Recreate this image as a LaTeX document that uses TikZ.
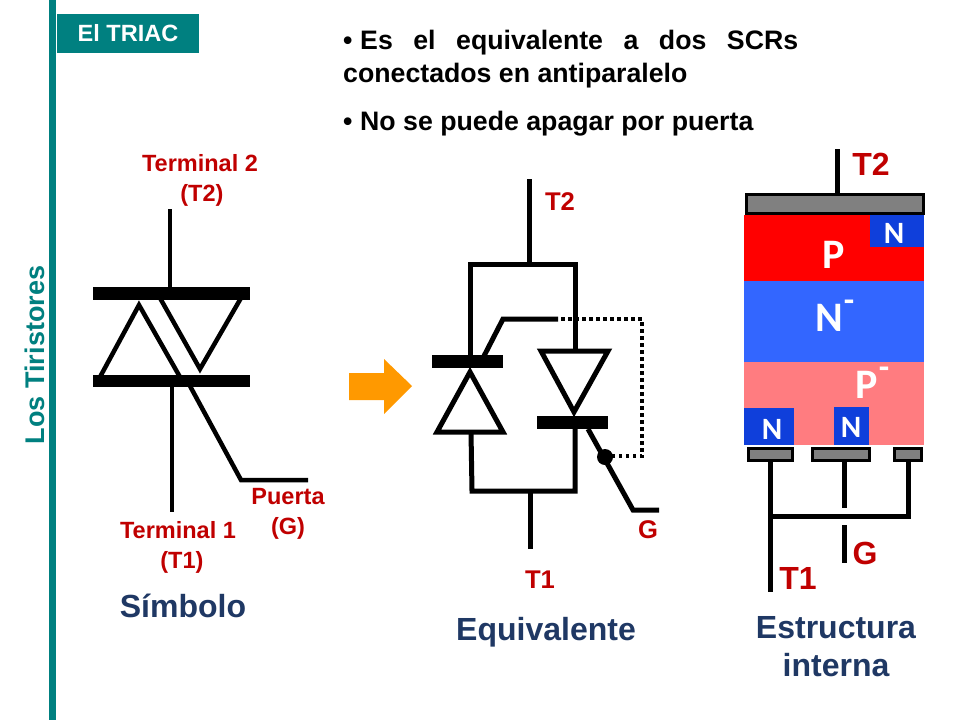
\documentclass[tikz,border=0pt]{standalone}
\usepackage{fontspec}
\setmainfont{Liberation Sans}
\newfontfamily\calfam{Carlito}
\definecolor{teal1}{HTML}{008080}
\definecolor{lab}{HTML}{C00000}
\definecolor{navy}{HTML}{1F3864}
\definecolor{nplus}{HTML}{0F3FDB}
\definecolor{nminus}{HTML}{3366FF}
\definecolor{pminus}{HTML}{FF7C80}
\definecolor{metal}{HTML}{808080}
\definecolor{arrowor}{HTML}{FF9900}
\tikzset{
  x=1pt,y=-1pt,
  wire/.style={draw=black,line width=4.5pt,line join=miter},
  wireb/.style={draw=black,line width=5pt,line join=miter},
  metalbox/.style={fill=metal,draw=black,line width=3pt},
  lbl/.style={text=lab,font=\bfseries\fontsize{23.5}{30}\selectfont,align=center,inner sep=0pt},
  lblm/.style={text=lab,font=\bfseries\fontsize{25.6}{30}\selectfont,inner sep=0pt},
  lblb/.style={text=lab,font=\bfseries\fontsize{32}{36}\selectfont,inner sep=0pt},
  cap1/.style={text=navy,font=\bfseries\fontsize{32}{36}\selectfont,align=center,inner sep=0pt},
  semi/.style={text=white,font=\calfam\bfseries\fontsize{42}{46}\selectfont,inner sep=0pt},
  semim/.style={text=white,font=\calfam\bfseries\fontsize{34}{36}\selectfont,inner sep=0pt},
  semis/.style={text=white,font=\calfam\bfseries\fontsize{31}{34}\selectfont,inner sep=0pt},
  body/.style={font=\bfseries\fontsize{26.7}{30}\selectfont,inner sep=0pt,anchor=base west},
}
\begin{document}
\begin{tikzpicture}
\useasboundingbox (0,0) rectangle (960,720);
\fill[white] (0,0) rectangle (960,720);
% frame
\fill[teal1] (49,0) rectangle (56,720);
\node[fill=teal1,text=white,font=\bfseries\fontsize{23.5}{28}\selectfont,minimum width=142pt,minimum height=39pt,inner sep=0pt] (hdr) at (128,33.5) {El TRIAC};
\node[text=teal1,font=\bfseries\fontsize{27}{32}\selectfont,rotate=90,inner sep=0pt] (side) at (35,355) {Los Tiristores};
% bullets
\node[body] (b1a) at (343,49) {•};
\node[body] (b1b) at (360,49) {\hbox to 438pt{Es\hfill el\hfill equivalente\hfill a\hfill dos\hfill SCRs}};
\node[body] (b1c) at (343,82) {conectados en antiparalelo};
\node[body] (b2a) at (343,130) {•};
\node[body] (b2b) at (360,130) {No se puede apagar por puerta};
% symbol
\draw[wire] (170,209) -- (170,290);
\fill[black] (93,287) rectangle (250,300);
\fill[black] (93,375) rectangle (250,387);
\draw[wire] (100,377) -- (139,305) -- (180,377);
\draw[wire] (160,298) -- (200,369) -- (241,298);
\draw[wire] (172,385) -- (172,512);
\draw[wire] (190,386) -- (241,480) -- (308,480);
\node[lbl] (lt2) at (200,180) {Terminal 2\\\,(T2)};
\node[lbl] (lt1) at (178,547) {Terminal 1\\\,\,(T1)};
\node[lbl] (lg) at (288,514) {Puerta\\(G)};
\node[cap1] (csym) at (183,606) {Símbolo};
% arrow
\fill[arrowor] (349,373) -- (384,373) -- (384,359) -- (412,386) -- (384,414) -- (384,400) -- (349,400) -- cycle;
% equivalent
\draw[wireb] (529,179) -- (529,264);
\draw[wireb] (470,355) -- (470,264) -- (575,264) -- (575,350);
\fill[black] (432,355) rectangle (503,368);
\fill[black] (537,416) rectangle (608,429);
\draw[wireb] (437,432) -- (470,372) -- (503,432) -- cycle;
\draw[wireb] (541,351) -- (608,351) -- (574,412) -- cycle;
\draw[wireb] (471,432) -- (472,491) -- (575,491) -- (575,428);
\draw[wireb] (484,356) -- (503,319) -- (558,319);
\draw[line width=3.5pt,dash pattern=on 3.5pt off 3.5pt] (561,319) -- (642,319) -- (642,456) -- (605,456);
\draw[wireb] (588,429) -- (633,510) -- (659,510);
\fill[black] (605,457) circle (8);
\draw[wireb] (530,491) -- (530,549);
\node[lblm] (et2) at (560,202) {T2};
\node[lblm] (eg) at (648,530) {G};
\node[lblm] (et1) at (540,580) {T1};
\node[cap1] (ceq) at (546,632) {Equivalente};
% structure
\fill[red] (744,215) rectangle (924,281);
\fill[nminus] (744,281) rectangle (924,362);
\fill[pminus] (744,362) rectangle (924,445);
\fill[nplus] (870,214) rectangle (924,247);
\fill[nplus] (744,408) rectangle (794,445);
\fill[nplus] (834,407) rectangle (869,445);
\draw[metalbox] (746,194) rectangle (923,213);
\draw[metalbox] (748,448) rectangle (792,460);
\draw[metalbox] (812,448) rectangle (869,460);
\draw[metalbox] (894,448) rectangle (921,460);
\draw[wireb] (837,149) -- (837,193);
\draw[wireb] (770,461) -- (770,592);
\draw[wireb] (844,461) -- (844,508);
\draw[wireb] (770,516) -- (908,516) -- (908,461);
\draw[wireb] (844,525) -- (844,563);
\node[semi] (p) at (834,255) {P};
\node[semi] (nm) at (829,318) {N};
\node[semim] (nmm) at (849,306) {-};
\node[semi] (pm) at (867,385) {P};
\node[semim] (pmm) at (884,373) {-};
\node[semis] (n1) at (894,233) {N};
\node[semis] (n2) at (772,429) {N};
\node[semis] (n3) at (851,427) {N};
\node[lblb] (st2) at (871,164) {T2};
\node[lblb] (sg) at (865,553) {G};
\node[lblb] (st1) at (798,578) {T1};
\node[cap1] (cs1) at (836,628) {Estructura};
\node[cap1] (cs2) at (836,665) {interna};
\end{tikzpicture}
\end{document}
